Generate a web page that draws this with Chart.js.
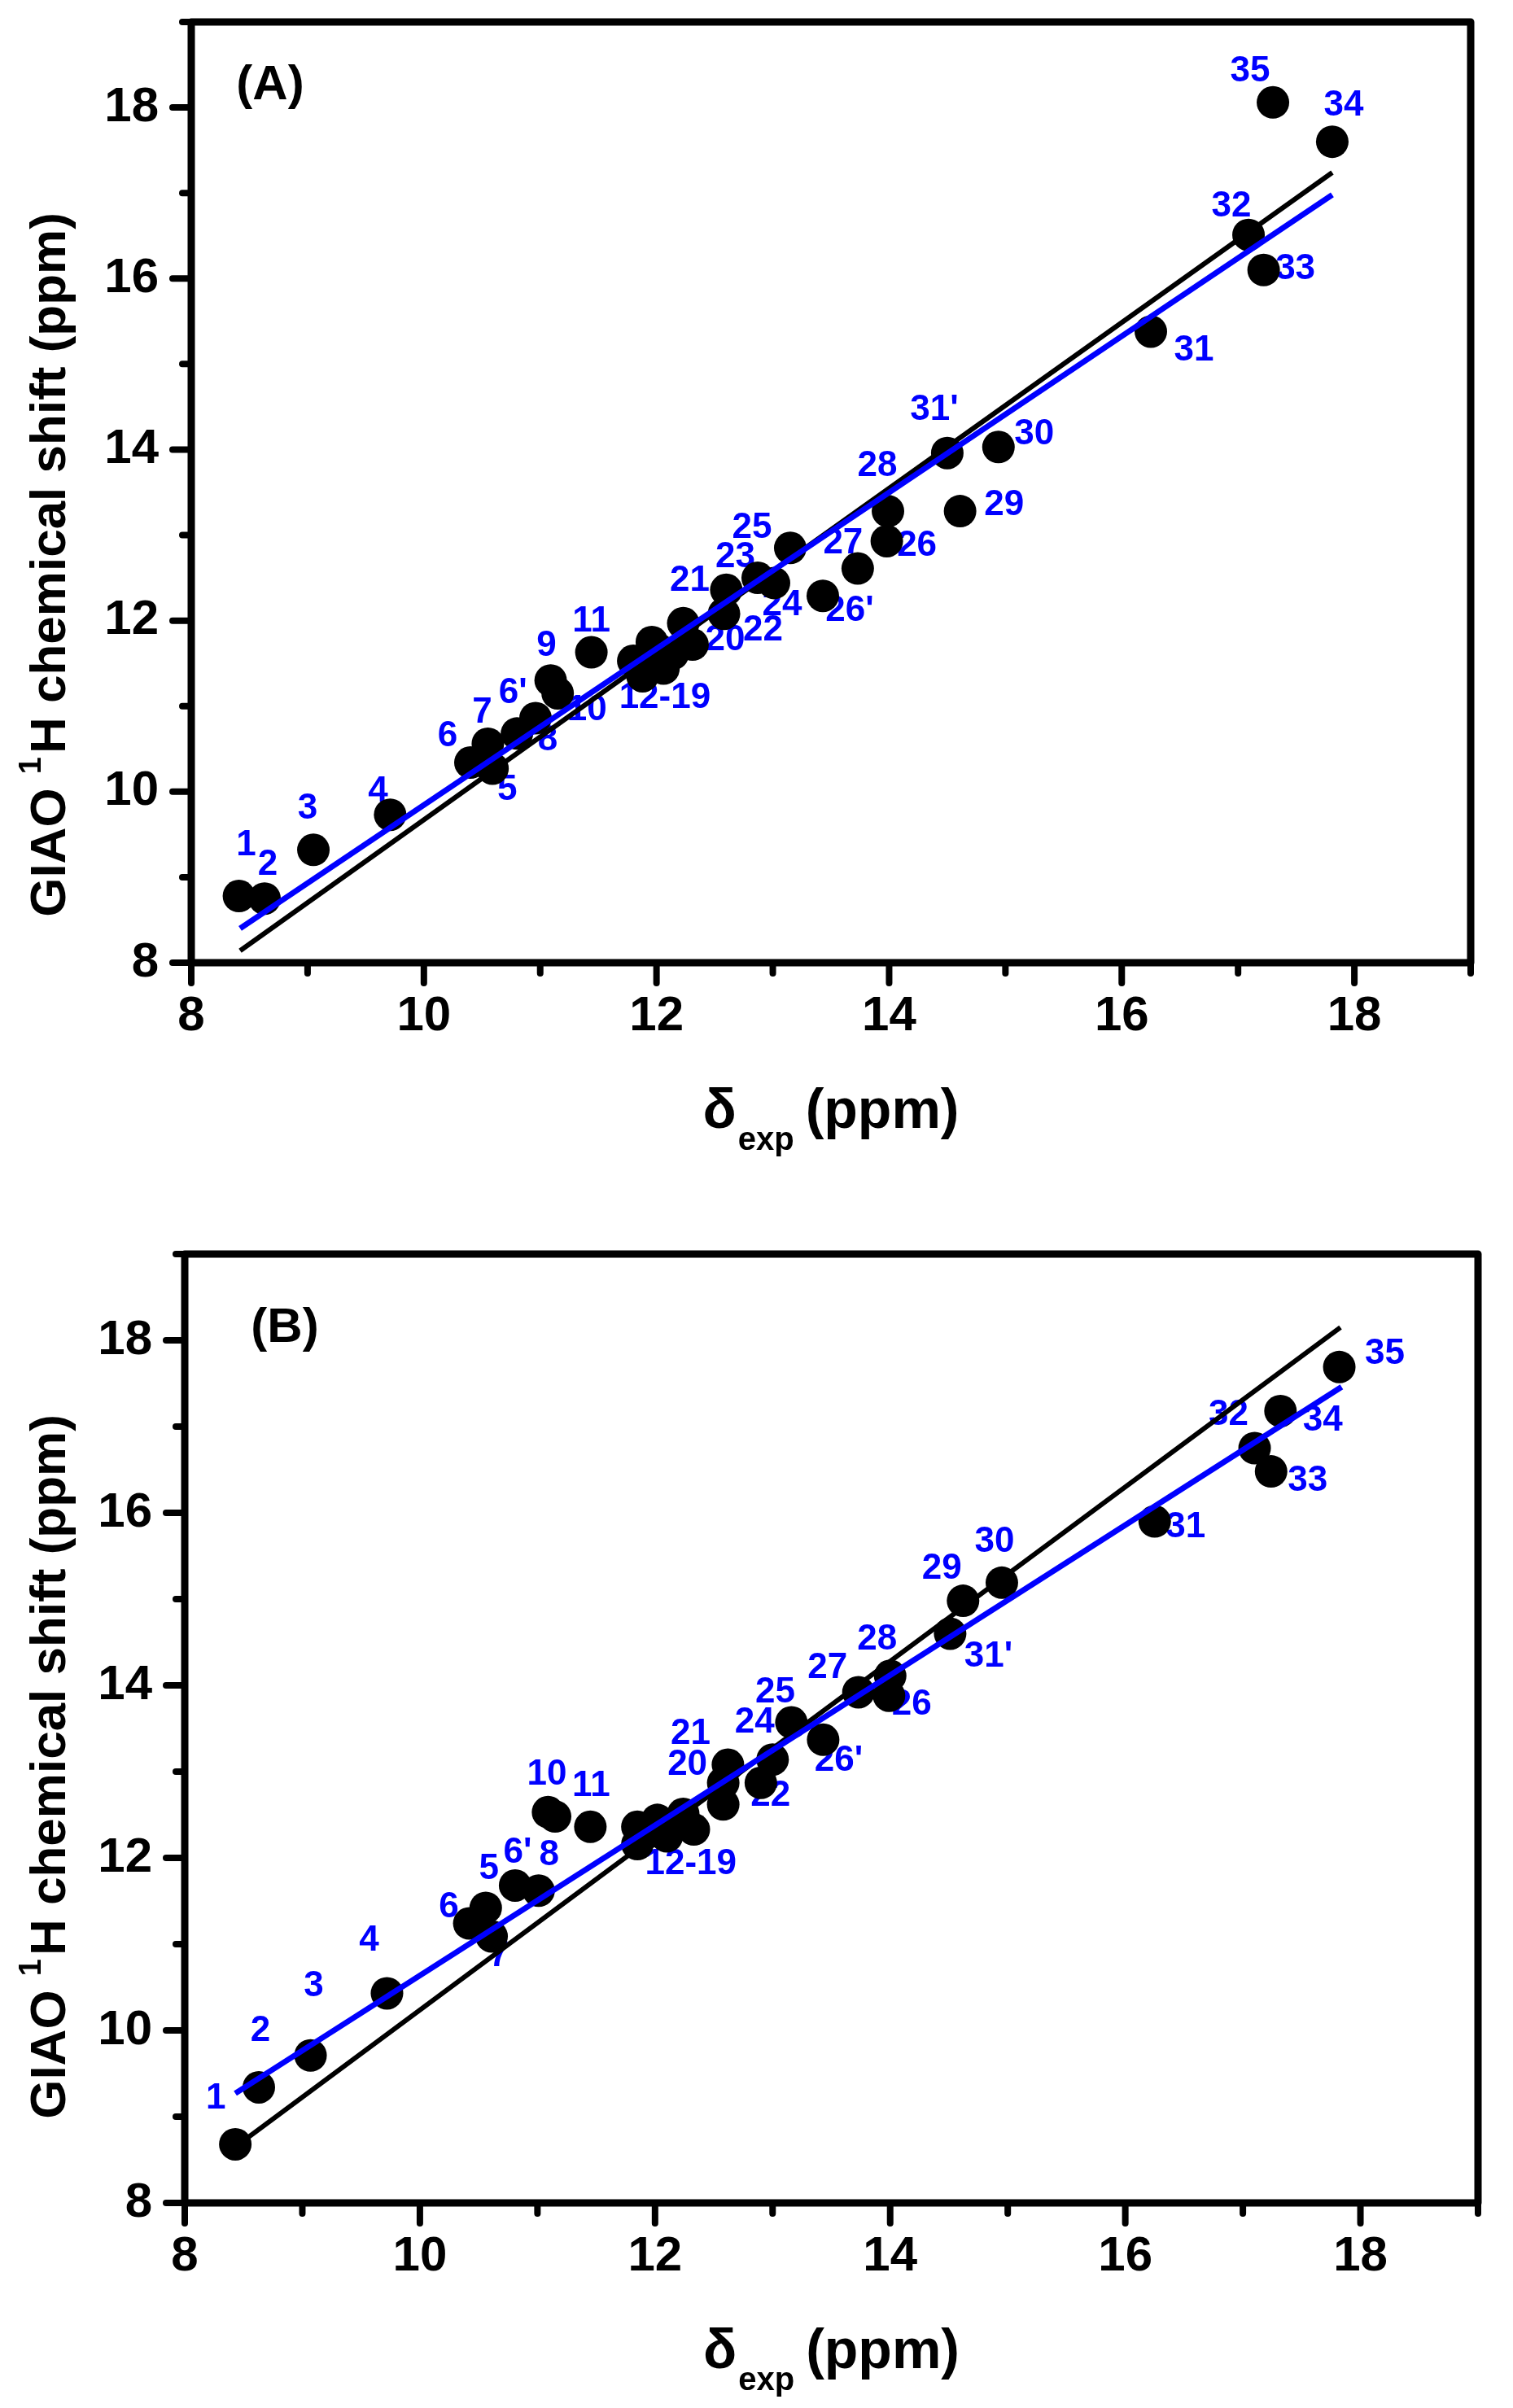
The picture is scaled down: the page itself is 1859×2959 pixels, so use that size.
<!DOCTYPE html>
<html>
<head>
<meta charset="utf-8">
<script src="https://cdn.jsdelivr.net/npm/chart.js@4.4.0/dist/chart.umd.min.js"></script>
<style>
  html, body { margin: 0; padding: 0; background: #fff; }
  #wrap { position: relative; width: 1859px; height: 2959px; }
  canvas { position: absolute; left: 0; }
</style>
</head>
<body>
<div id="wrap">
  <canvas id="chartA" width="1859" height="1480" style="top:0px"></canvas>
  <canvas id="chartB" width="1859" height="1479" style="top:1480px"></canvas>
</div>
<script>
// ---- data, panel (A) ----
const xA = [8.41, 8.63, 9.05, 9.71, 10.59, 10.40, 10.80, 10.55, 10.96, 11.09, 11.15, 11.44,
            11.80, 11.96, 12.06, 11.88, 12.14, 11.92, 12.02, 11.86,
            12.31, 12.23, 12.58, 12.60, 12.87, 13.01, 13.15, 13.43, 13.73, 13.98, 13.99,
            14.61, 14.50, 14.94, 16.25, 17.09, 17.22, 17.30, 17.81];
const yA = [8.78, 8.75, 9.32, 9.73, 10.27, 10.34, 10.68, 10.56, 10.86, 11.30, 11.15, 11.63,
            11.53, 11.75, 11.44, 11.35, 11.61, 11.58, 11.66, 11.47,
            11.72, 11.97, 12.08, 12.36, 12.50, 12.44, 12.85, 12.29, 12.61, 12.93, 13.28,
            13.28, 13.96, 14.03, 15.38, 16.51, 16.10, 18.06, 17.60];
const labA = ['1', '2', '3', '4', '5', '6', "6'", '7', '8', '9', '10', '11',
              '', '12-19', '', '', '', '', '', '',
              '20', '21', '22', '23', '', '24', '25', "26'", '27', '26', '28',
              '29', "31'", '30', '31', '32', '33', '35', '34'];
const blackAx = [8.42, 17.81];
const blackAy = [8.14, 17.24];
const blueAx = [8.42, 17.81];
const blueAy = [8.40, 16.98];

// ---- data, panel (B) ----
const xB = [8.43, 8.63, 9.07, 9.72, 10.56, 10.42, 10.81, 10.61, 11.01, 11.09, 11.15, 11.45,
            11.85, 12.02, 11.85, 12.10, 12.24, 12.33, 11.95, 12.17,
            12.58, 12.62, 12.58, 12.90, 13.00, 13.16, 13.43, 13.73, 14.00, 13.99,
            14.51, 14.62, 14.95, 16.25, 17.10, 17.24, 17.32, 17.82];
const yB = [8.68, 9.34, 9.71, 10.43, 11.42, 11.24, 11.68, 11.09, 11.62, 12.53, 12.48, 12.36,
            12.36, 12.44, 12.16, 12.25, 12.51, 12.33, 12.30, 12.38,
            12.62, 13.08, 12.87, 12.87, 13.14, 13.57, 13.37, 13.92, 14.11, 13.88,
            14.60, 14.98, 15.19, 15.90, 16.75, 16.48, 17.18, 17.69];
const labB = ['1', '2', '3', '4', '5', '6', "6'", '7', '8', '', '10', '11',
              '', '12-19', '', '', '', '', '', '',
              '20', '21', '', '22', '24', '25', "26'", '27', '28', '26',
              "31'", '29', '30', '31', '32', '33', '34', '35'];
const blackBx = [8.43, 17.83];
const blackBy = [8.65, 18.15];
const blueBx = [8.43, 17.84];
const blueBy = [9.27, 17.46];

const axisMin = 8;
const axisMax = 19;

// label offsets from the point centre, in px (placement only)
const offA = [[9,-62],[4,-41],[-7,-50],[-15,-28],[18,26],[-28,-32],[-5,-49],[-7,-38],[15,27],[-5,-42],[36,21],[0,-38],
              [0,0],[16,69],[0,0],[0,0],[0,0],[0,0],[0,0],[0,0],
              [40,-5],[8,-52],[48,21],[11,-40],[0,0],[10,27],[-47,-24],[33,19],[-18,-31],[37,6],[-13,-55],
              [54,-7],[-16,-53],[44,-15],[53,23],[-21,-35],[39,-1],[-28,-38],[14,-44]];
const offB = [[-24,-56],[2,-69],[4,-85],[-22,-65],[4,-48],[-25,-20],[3,-40],[9,24],[13,-43],[0,0],[-10,-51],[1,-50],
              [0,0],[41,54],[0,0],[0,0],[0,0],[0,0],[0,0],[0,0],
              [-44,-48],[-46,-38],[0,0],[12,16],[-22,-45],[-20,-37],[19,26],[-38,-30],[-16,-44],[28,11],
              [47,28],[-26,-39],[-9,-50],[38,7],[-32,-41],[45,12],[52,12],[56,-16]];

const FONT = '"Liberation Sans", Arial, sans-serif';

function pts(xs, ys) {
  return xs.map(function (x, i) { return { x: x, y: ys[i] }; });
}

// frame, ticks, titles and point labels
const decor = {
  id: 'decor',
  beforeDatasetsDraw(chart, args, opts) {
    const ctx = chart.ctx;
    const meta = chart.getDatasetMeta(2);
    ctx.save();
    ctx.fillStyle = '#0000ff';
    ctx.font = 'bold 44px ' + FONT;
    ctx.textAlign = 'center';
    ctx.textBaseline = 'middle';
    opts.labels.forEach(function (t, i) {
      if (!t) return;
      const el = meta.data[i];
      ctx.fillText(t, el.x + opts.offsets[i][0], el.y + opts.offsets[i][1]);
    });
    ctx.restore();
  },
  afterDraw(chart, args, opts) {
    const ctx = chart.ctx;
    const a = chart.chartArea;
    const xs = chart.scales.x;
    const ys = chart.scales.y;
    ctx.save();
    ctx.strokeStyle = '#000';
    ctx.lineJoin = 'round';
    ctx.lineWidth = 9;
    ctx.strokeRect(a.left, a.top, a.right - a.left, a.bottom - a.top);

    ctx.lineWidth = 8;
    ctx.lineCap = 'round';
    for (let v = axisMin; v <= axisMax; v++) {
      const major = v % 2 === 0;
      const px = xs.getPixelForValue(v);
      ctx.beginPath();
      ctx.moveTo(px, a.bottom);
      ctx.lineTo(px, a.bottom + (major ? 25 : 13));
      ctx.stroke();
      const py = ys.getPixelForValue(v);
      ctx.beginPath();
      ctx.moveTo(a.left, py);
      ctx.lineTo(a.left - (major ? 23 : 11), py);
      ctx.stroke();
    }

    ctx.fillStyle = '#000';

    // panel tag
    ctx.font = 'bold 60px ' + FONT;
    ctx.textAlign = 'center';
    ctx.textBaseline = 'middle';
    ctx.fillText(opts.panel, a.left + opts.panelDx, a.top + opts.panelDy);
    ctx.textBaseline = 'alphabetic';
    ctx.textAlign = 'left';

    // x title: delta with subscript
    const big = 'bold 68px ' + FONT;
    const small = 'bold 40px ' + FONT;
    ctx.font = big;
    const w1 = ctx.measureText('\u03b4').width;
    const w3 = ctx.measureText('(ppm)').width;
    ctx.font = small;
    const w2 = ctx.measureText('exp').width;
    const gap = 16;
    const x0 = (a.left + a.right) / 2 - (w1 + w2 + gap + w3) / 2;
    const base = a.bottom + 203;
    ctx.font = big;
    ctx.fillText('\u03b4', x0, base);
    ctx.font = small;
    ctx.fillText('exp', x0 + w1 + 2, base + 27);
    ctx.font = big;
    ctx.fillText('(ppm)', x0 + w1 + w2 + gap, base);

    // y title, rotated, with superscript
    const yb = 'bold 62px ' + FONT;
    const ysup = 'bold 38px ' + FONT;
    ctx.translate(80, opts.yTitleCenter);
    ctx.rotate(-Math.PI / 2);
    ctx.font = yb;
    const p1 = ctx.measureText('GIAO ').width;
    const p3 = ctx.measureText('H chemical shift (ppm)').width;
    ctx.font = ysup;
    const p2 = ctx.measureText('1').width + 4;
    const s = -(p1 + p2 + p3) / 2;
    ctx.font = yb;
    ctx.fillText('GIAO ', s, 0);
    ctx.font = ysup;
    ctx.fillText('1', s + p1, -30);
    ctx.font = yb;
    ctx.fillText('H chemical shift (ppm)', s + p1 + p2, 0);
    ctx.restore();
  }
};

function makeChart(id, area, xs, ys, bx, by, ux, uy, labels, offsets, panel, panelDx, panelDy, yTitleCenter) {
  const el = document.getElementById(id);
  const H = el.height;
  return new Chart(el.getContext('2d'), {
    type: 'scatter',
    data: {
      datasets: [{
        label: 'fit (blue)',
        data: pts(ux, uy),
        showLine: true,
        borderColor: '#0000ff',
        borderWidth: 7,
        pointRadius: 0
      }, {
        label: 'fit (black)',
        data: pts(bx, by),
        showLine: true,
        borderColor: '#000000',
        borderWidth: 6,
        pointRadius: 0
      }, {
        label: 'GIAO',
        data: pts(xs, ys),
        backgroundColor: '#000000',
        borderWidth: 0,
        pointRadius: 20,
        pointHoverRadius: 20
      }]
    },
    options: {
      responsive: false,
      devicePixelRatio: 1,
      animation: false,
      events: [],
      layout: { padding: { left: 0, top: area.top, right: el.width - area.right, bottom: 0 } },
      plugins: {
        legend: { display: false },
        tooltip: { enabled: false },
        decor: { labels: labels, offsets: offsets, panel: panel, panelDx: panelDx, panelDy: panelDy, yTitleCenter: yTitleCenter }
      },
      scales: {
        x: {
          type: 'linear',
          min: axisMin,
          max: axisMax,
          grid: { display: false, drawTicks: false },
          border: { display: false },
          ticks: {
            stepSize: 1,
            autoSkip: false,
            maxRotation: 0,
            padding: 30,
            color: '#000',
            font: { family: FONT, size: 60, weight: 'bold' },
            callback: function (v) { return v % 2 === 0 ? v : ''; }
          },
          afterFit: function (sc) {
            sc.height = H - area.bottom;
            sc.paddingLeft = 0;
            sc.paddingRight = 0;
          }
        },
        y: {
          type: 'linear',
          min: axisMin,
          max: axisMax,
          grid: { display: false, drawTicks: false },
          border: { display: false },
          ticks: {
            stepSize: 1,
            autoSkip: false,
            padding: 40,
            color: '#000',
            font: { family: FONT, size: 60, weight: 'bold' },
            callback: function (v) { return v % 2 === 0 ? v : ''; }
          },
          afterFit: function (sc) {
            sc.width = area.left;
            sc.paddingTop = 0;
            sc.paddingBottom = 0;
          }
        }
      }
    },
    plugins: [decor]
  });
}

makeChart('chartA', { left: 235, right: 1807, top: 27, bottom: 1183 },
  xA, yA, blackAx, blackAy, blueAx, blueAy, labA, offA, '(A)', 97, 78, 694);
makeChart('chartB', { left: 227, right: 1816, top: 61, bottom: 1227 },
  xB, yB, blackBx, blackBy, blueBx, blueBy, labB, offB, '(B)', 123, 91, 2171 - 1480);
</script>
</body>
</html>
